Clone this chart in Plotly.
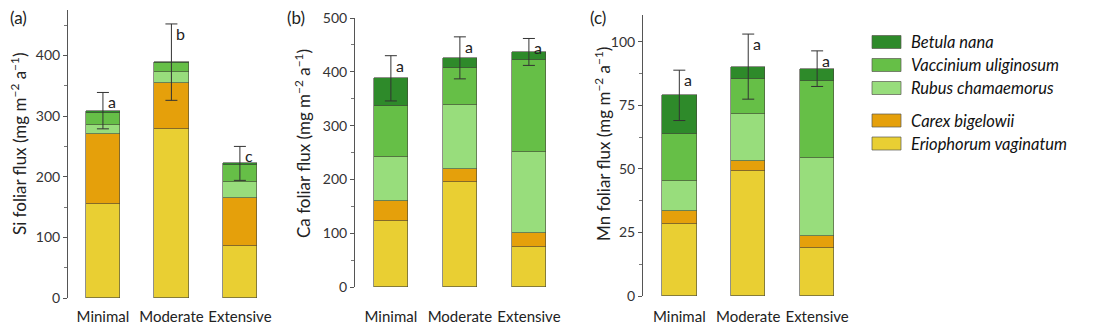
import plotly.graph_objects as go

# the page adds an 8px body margin, so the figure is 8px smaller and coordinates
# below are given in screenshot pixels and shifted by OFF
OFF = 8
W, H = 1095 - OFF, 324 - OFF


def px(x):
    return (x - OFF) / W


def py(y):
    return 1 - (y - OFF) / H


# data
treatments = ['Minimal', 'Moderate', 'Extensive']
species = ['Eriophorum vaginatum', 'Carex bigelowii', 'Rubus chamaemorus',
           'Vaccinium uliginosum', 'Betula nana']
colors = ['#e9cf33', '#e5a00b', '#98dd7c', '#66bf47', '#2e8a2a']

# segment heights per species (bottom to top), mg m-2 a-1
si_erio = [155, 278, 86]
si_carex = [115, 77, 79]
si_rubus = [15, 18, 27]
si_vacc = [20, 14, 28]
si_betula = [4, 2, 2]
si_err = [30, 63, 28]
si_letters = ['a', 'b', 'c']

ca_erio = [123, 196, 74]
ca_carex = [38, 24, 27]
ca_rubus = [81, 118, 150]
ca_vacc = [94, 69, 171]
ca_betula = [52, 19, 15]
ca_err = [42, 39, 25]
ca_letters = ['a', 'a', 'a']

mn_erio = [28.2, 49.2, 18.9]
mn_carex = [5.3, 3.9, 4.7]
mn_rubus = [11.8, 18.3, 30.8]
mn_vacc = [18.5, 13.8, 30.3]
mn_betula = [15.1, 5.0, 4.7]
mn_err = [9.9, 12.8, 7.0]
mn_letters = ['a', 'a', 'a']

panels = [
    dict(segs=[si_erio, si_carex, si_rubus, si_vacc, si_betula], err=si_err, letters=si_letters,
         title='Si foliar flux (mg m<sup>−2</sup> a<sup>−1</sup>)', tag='(a)',
         xpx=(68, 267.3), xr=[-0.51, 2.4], ypx=(10, 298), yr=[0, 475],
         dtick=100, minor=50, standoff=8, title_x=18, tag_x=8),
    dict(segs=[ca_erio, ca_carex, ca_rubus, ca_vacc, ca_betula], err=ca_err, letters=ca_letters,
         title='Ca foliar flux (mg m<sup>−2</sup> a<sup>−1</sup>)', tag='(b)',
         xpx=(355, 556.5), xr=[-0.52, 2.4], ypx=(18, 287.3), yr=[0, 500],
         dtick=100, minor=50, standoff=19, title_x=302, tag_x=285),
    dict(segs=[mn_erio, mn_carex, mn_rubus, mn_vacc, mn_betula], err=mn_err, letters=mn_letters,
         title='Mn foliar flux (mg m<sup>−2</sup> a<sup>−1</sup>)', tag='(c)',
         xpx=(643, 844.7), xr=[-0.527, 2.4], ypx=(15, 296), yr=[0, 110.5],
         dtick=25, minor=12.5, standoff=10, title_x=602, tag_x=588),
]

FONT = 'Lato'
fig = go.Figure()
annotations = []
shapes = []

for i, p in enumerate(panels):
    n = '' if i == 0 else str(i + 1)
    xa, ya = 'x' + n, 'y' + n
    for sp, col, vals in zip(species, colors, p['segs']):
        fig.add_trace(go.Bar(x=treatments, y=vals, name=sp, marker_color=col,
                             marker_line=dict(color='rgba(70,70,60,0.75)', width=0.8),
                             width=0.5, xaxis=xa, yaxis=ya, showlegend=False))
    totals = [sum(v) for v in zip(*p['segs'])]
    fig.add_trace(go.Scatter(x=treatments, y=totals, mode='markers', xaxis=xa, yaxis=ya,
                             marker=dict(size=1, opacity=0), showlegend=False,
                             error_y=dict(type='data', array=p['err'], visible=True,
                                          color='#333333', thickness=1, width=6)))
    for t, tot, e, lt in zip(treatments, totals, p['err'], p['letters']):
        annotations.append(dict(x=t, y=tot + e, xref=xa, yref=ya, text=lt, showarrow=False,
                                xanchor='center', yanchor='top', xshift=9, yshift=2,
                                font=dict(family=FONT, size=16, color='#222')))
    x0, x1 = p['xpx']
    y0, y1 = p['ypx']
    axx = dict(domain=[px(x0), px(x1)], range=p['xr'], anchor=ya, showline=False,
               showgrid=False, zeroline=False, ticks='', ticklabelstandoff=p['standoff'],
               automargin=False,
               tickfont=dict(family=FONT, size=15, color='#222'), fixedrange=True)
    axy = dict(domain=[py(y1), py(y0)], range=p['yr'], anchor=xa, showline=True,
               linecolor='#555', linewidth=1, showgrid=False, zeroline=False,
               automargin=False,
               ticks='outside', ticklen=4, tickcolor='#555', dtick=p['dtick'],
               minor=dict(dtick=p['minor'], ticks='outside', ticklen=3, tickcolor='#777'),
               tickfont=dict(family=FONT, size=14, color='#333'))
    fig.layout['xaxis' + n] = axx
    fig.layout['yaxis' + n] = axy
    annotations.append(dict(x=px(p['title_x']), y=py(144), xref='paper', yref='paper',
                            text=p['title'], textangle=-90, showarrow=False,
                            xanchor='center', yanchor='middle',
                            font=dict(family=FONT, size=17, color='#222')))
    annotations.append(dict(x=px(p['tag_x']), y=py(17), xref='paper', yref='paper',
                            text=p['tag'], showarrow=False, xanchor='left', yanchor='middle',
                            font=dict(family=FONT, size=17, color='#222')))

# legend drawn by hand (order top to bottom, with a gap between shrubs and sedges)
leg_order = [4, 3, 2, 1, 0]
leg_y = [42, 65, 88, 120.5, 143.5]
for k, yc in zip(leg_order, leg_y):
    shapes.append(dict(type='rect', xref='paper', yref='paper',
                       x0=px(872), x1=px(901), y0=py(yc + 6.5), y1=py(yc - 6.5),
                       fillcolor=colors[k], line=dict(color='rgba(90,90,80,0.7)', width=1)))
    annotations.append(dict(x=px(909), y=py(yc), xref='paper', yref='paper',
                            text='<i>' + species[k] + '</i>', showarrow=False,
                            xanchor='left', yanchor='middle',
                            font=dict(family=FONT, size=16.5, color='#111')))

fig.update_layout(template='none', width=W, height=H, margin=dict(l=0, r=0, t=0, b=0, pad=0),
                  barmode='stack', bargap=0, plot_bgcolor='white', paper_bgcolor='white',
                  annotations=annotations, shapes=shapes, showlegend=False,
                  font=dict(family=FONT))

fig.write_html("out.html")
